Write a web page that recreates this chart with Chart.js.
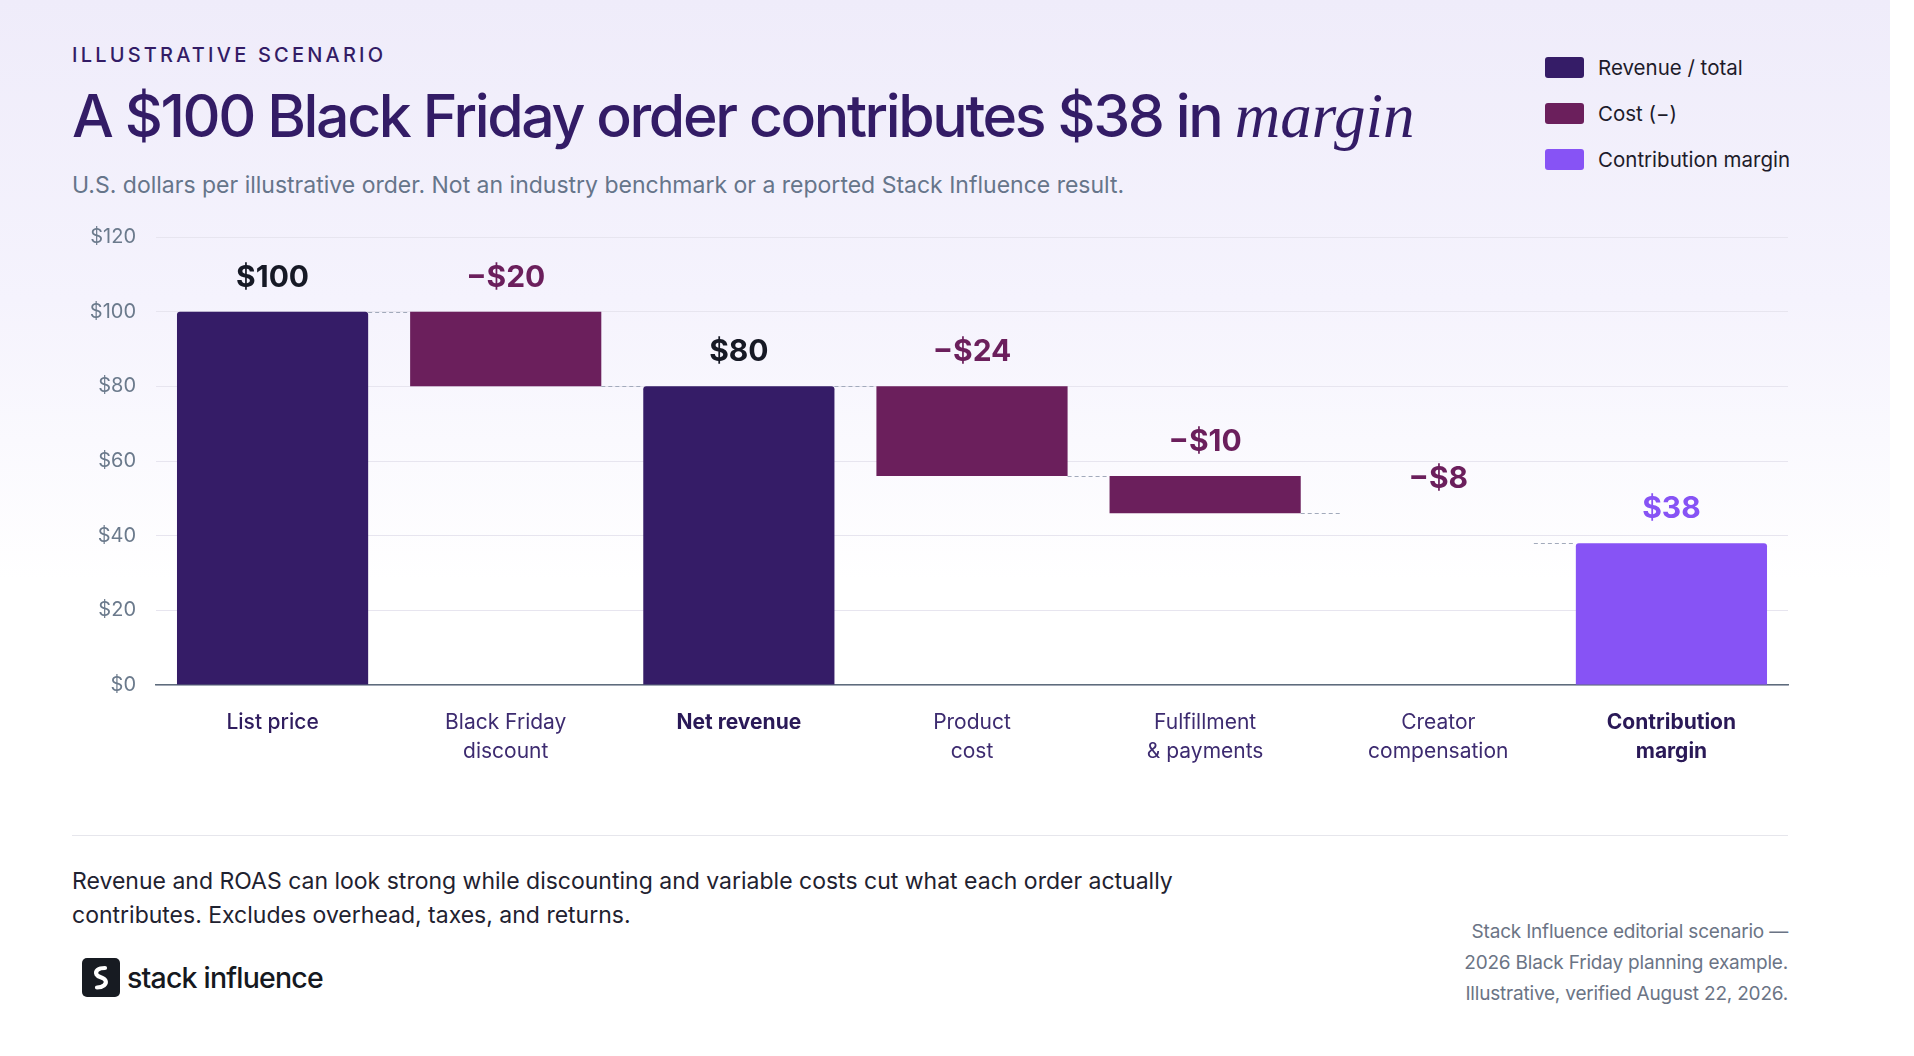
<!DOCTYPE html>
<html>
<head>
<meta charset="utf-8">
<script src="https://cdn.jsdelivr.net/npm/chart.js@4.4.1/dist/chart.umd.min.js"></script>
<style>
  html, body { margin: 0; padding: 0; background: #fff; }
  body { width: 1914px; height: 1056px; position: relative; overflow: hidden; font-family: Inter, "Noto Sans", sans-serif; }
  .card { position: absolute; left: 0; top: 0; width: 1890px; height: 1056px;
    background: linear-gradient(180deg, #efecfa 0px, #f5f3fd 300px, #ffffff 580px); }
  .eyebrow { position: absolute; left: 72px; top: 43px; font-size: 20px; font-weight: 500; letter-spacing: 3.2px; color: #331c66; }
  .title { position: absolute; left: 72px; top: 78px; font-size: 59px; font-weight: 500; letter-spacing: -2.4px; color: #331c66; white-space: nowrap; line-height: 76px; }
  .title em { font-family: "Liberation Serif", "DejaVu Serif", serif; font-style: italic; font-weight: 400; font-size: 63px; letter-spacing: 0; }
  .subtitle { position: absolute; left: 72px; top: 171px; font-size: 23px; color: #66758a; white-space: nowrap; }
  .legend { position: absolute; left: 1545px; top: 57px; }
  .legend .row { display: flex; align-items: center; height: 21px; margin-bottom: 25px; font-size: 20.5px; color: #1d1b2a; }
  .legend .sw { width: 39px; height: 21px; border-radius: 3px; margin-right: 14px; }
  #wrap { position: absolute; left: 0; top: 205px; width: 1810px; height: 565px; }
  .rule { position: absolute; left: 72px; top: 835px; width: 1716px; height: 1px; background: #e6e6ec; }
  .note { position: absolute; left: 72px; top: 864px; font-size: 23px; line-height: 34px; color: #1f2230; }
  .logo { position: absolute; left: 82px; top: 958px; display: flex; align-items: center; }
  .logo .icon { width: 38px; height: 39px; border-radius: 5px; background: #171b22; display: flex; align-items: center; justify-content: center; }
  .logo .name { margin-left: 7px; font-size: 28.5px; font-weight: 500; letter-spacing: -0.8px; color: #151820; }
  .source { position: absolute; right: 126px; top: 916px; text-align: right; font-size: 19px; line-height: 31px; color: #6b7485; letter-spacing: -0.2px; }
</style>
</head>
<body>
<div class="card"></div>
<div class="eyebrow">ILLUSTRATIVE SCENARIO</div>
<div class="title">A $100 Black Friday order contributes $38 in <em>margin</em></div>
<div class="subtitle">U.S. dollars per illustrative order. Not an industry benchmark or a reported Stack Influence result.</div>
<div class="legend" id="legend"></div>
<div id="wrap"><canvas id="chart"></canvas></div>
<div class="rule"></div>
<div class="note">Revenue and ROAS can look strong while discounting and variable costs cut what each order actually<br>contributes. Excludes overhead, taxes, and returns.</div>
<div class="logo">
  <div class="icon">
    <svg width="22" height="26" viewBox="0 0 22 26"><path d="M15 3 C8 3 5 6 6.5 9.5 C8 12.5 14 12 15.5 15.5 C17 19 13 22.5 7 22.5" stroke="#fff" stroke-width="4.2" fill="none" stroke-linecap="round"/></svg>
  </div>
  <div class="name">stack influence</div>
</div>
<div class="source">Stack Influence editorial scenario —<br>2026 Black Friday planning example.<br>Illustrative, verified August 22, 2026.</div>

<script>
const categories = [
  ["List price"],
  ["Black Friday", "discount"],
  ["Net revenue"],
  ["Product", "cost"],
  ["Fulfillment", "& payments"],
  ["Creator", "compensation"],
  ["Contribution", "margin"]
];
// step values in dollars, costs negative
const steps = [100, -20, 80, -24, -10, -8, 38];
const kinds = ["total", "cost", "total", "cost", "cost", "cost", "margin"];
const yTicks = [0, 20, 40, 60, 80, 100, 120];
const legendLabels = ["Revenue / total", "Cost (\u2212)", "Contribution margin"];

const colors = { total: "#351c67", cost: "#6b1f5c", margin: "#8753f5" };
const labelColors = { total: "#161925", cost: "#6b1f5c", margin: "#8753f5" };
// the creator bar does not show in the source picture, only its label
const drawn = [true, true, true, true, true, false, true];

// build floating ranges for the waterfall
const ranges = [];
const levels = [];
let running = 0;
steps.forEach((v, i) => {
  if (kinds[i] === "cost") {
    ranges.push([running + v, running]);
    running += v;
  } else {
    ranges.push([0, v]);
    running = v;
  }
  levels.push(running);
});

document.getElementById("legend").innerHTML = legendLabels.map((t, i) => {
  const c = [colors.total, colors.cost, colors.margin][i];
  return `<div class="row"><div class="sw" style="background:${c}"></div>${t}</div>`;
}).join("");

function fmt(v, kind) {
  return kind === "cost" ? "\u2212$" + Math.abs(v) : "$" + v;
}

const waterfallExtras = {
  id: "waterfallExtras",
  afterDatasetsDraw(chart) {
    const ctx = chart.ctx;
    const meta = chart.getDatasetMeta(0);
    const y = chart.scales.y;
    ctx.save();
    // connectors
    ctx.strokeStyle = "#a2aabb";
    ctx.lineWidth = 1;
    ctx.setLineDash([4, 3]);
    for (let i = 0; i < meta.data.length - 1; i++) {
      const a = meta.data[i], b = meta.data[i + 1];
      const ly = Math.round(y.getPixelForValue(levels[i])) + 0.5;
      ctx.beginPath();
      ctx.moveTo(a.x + a.width / 2, ly);
      ctx.lineTo(b.x - b.width / 2, ly);
      ctx.stroke();
    }
    ctx.setLineDash([]);
    // value labels
    ctx.font = "700 30px Inter";
    ctx.textAlign = "center";
    ctx.textBaseline = "alphabetic";
    meta.data.forEach((bar, i) => {
      const top = y.getPixelForValue(Math.max(ranges[i][0], ranges[i][1]));
      ctx.fillStyle = labelColors[kinds[i]];
      ctx.fillText(fmt(steps[i], kinds[i]), bar.x, top - 25);
    });
    ctx.restore();
  }
};

new Chart(document.getElementById("chart"), {
  type: "bar",
  data: {
    labels: categories,
    datasets: [{
      data: ranges,
      backgroundColor: ctx => drawn[ctx.dataIndex] ? colors[kinds[ctx.dataIndex]] : "rgba(0,0,0,0)",
      borderRadius: ctx => kinds[ctx.dataIndex] === "cost" ? 0 : { topLeft: 3, topRight: 3, bottomLeft: 0, bottomRight: 0 },
      borderSkipped: false,
      barPercentage: 0.82,
      categoryPercentage: 1
    }]
  },
  options: {
    responsive: true,
    maintainAspectRatio: false,
    animation: false,
    layout: { padding: { top: 21, right: 22, bottom: 0, left: 0 } },
    plugins: { legend: { display: false }, tooltip: { enabled: false } },
    scales: {
      x: {
        grid: { display: false },
        border: { display: true, color: "#5e6c7c", width: 1.5 },
        afterFit: s => { s.height = 85; },
        ticks: {
          padding: 16,
          autoSkip: false,
          maxRotation: 0,
          color: ctx => [ "#2f1c5e", "#3d2b70", "#2a1957", "#3d2b70", "#3d2b70", "#3d2b70", "#2a1957"][ctx.index],
          font: ctx => ({ family: "Inter", size: 21, lineHeight: 1.35, weight: [500, 400, 700, 400, 400, 400, 700][ctx.index] })
        }
      },
      y: {
        min: 0,
        max: 120,
        afterFit: s => { s.width = 156; },
        afterBuildTicks: s => { s.ticks = yTicks.map(v => ({ value: v })); },
        border: { display: false },
        grid: { color: "#e7e5ef", lineWidth: 1, drawTicks: false },
        ticks: {
          padding: 20,
          color: "#6b7a8c",
          font: { family: "Inter", size: 20 },
          callback: v => "$" + v
        }
      }
    }
  },
  plugins: [waterfallExtras]
});
</script>
</body>
</html>
